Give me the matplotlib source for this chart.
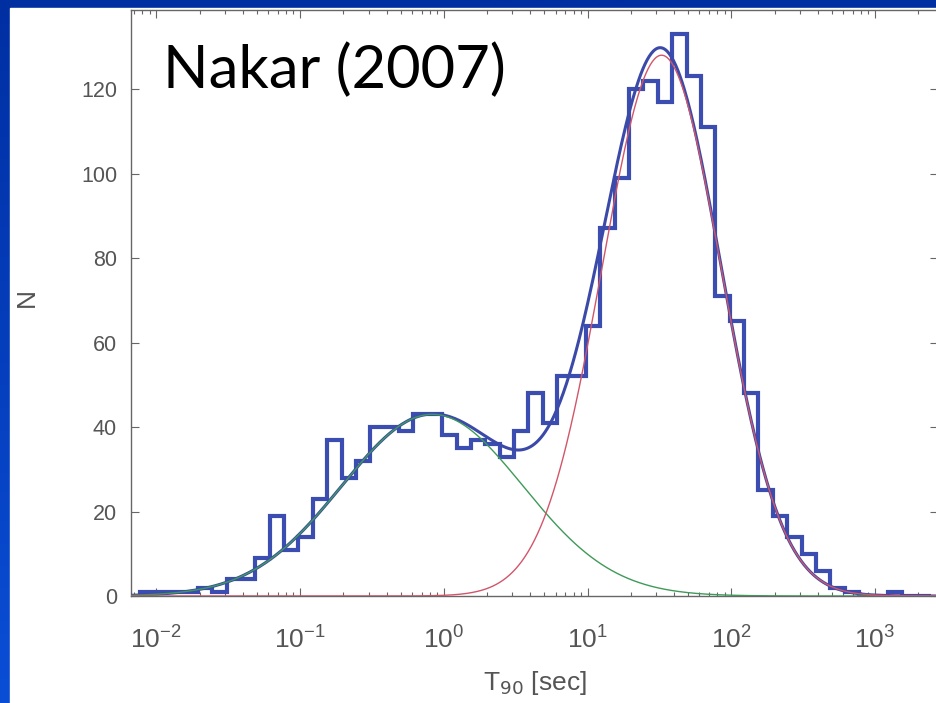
import matplotlib
matplotlib.use("Agg")
import matplotlib.pyplot as plt
import numpy as np
from matplotlib.colors import LinearSegmentedColormap
from matplotlib.patches import Rectangle
from matplotlib.ticker import LogLocator, NullFormatter

plt.rcParams['font.family'] = ['Liberation Sans', 'DejaVu Sans']

# T90 histogram, bins of 0.1 dex starting at log10(T90) = -2.111
first_edge_log = -2.111
bin_width_log = 0.1
counts = [1, 1, 1, 1, 2, 1, 4, 4, 9, 19,
          11, 14, 23, 37, 28, 32, 40, 40, 39, 43,
          43, 38, 35, 37, 36, 33, 39, 48, 41, 52,
          52, 64, 87, 99, 120, 122, 117, 133, 123, 111,
          71, 65, 48, 25, 19, 14, 10, 6, 2, 1,
          0, 0, 1, 0, 0]

# two log-normal components: amplitude, log10 centre, log10 width
short_amp, short_mu, short_sigma = 43.0, -0.08, 0.63
long_amp, long_mu, long_sigma = 128.0, 1.515, 0.415

yticks = [0, 20, 40, 60, 80, 100, 120]

W, H = 936, 703
fig = plt.figure(figsize=(W / 100, H / 100), dpi=100)

# slide background: blue gradient with a white panel
bg = fig.add_axes([0, 0, 1, 1], zorder=-2)
grad = LinearSegmentedColormap.from_list('slide', ['#002fa2', '#0a4ed6'])
bg.imshow(np.linspace(0, 1, 256).reshape(-1, 1), cmap=grad, aspect='auto',
          extent=[0, 1, 0, 1], origin='upper')
bg.add_patch(Rectangle((10 / W, 0), 1, (H - 8) / H, color='white'))
bg.set_xlim(0, 1)
bg.set_ylim(0, 1)
bg.axis('off')

ax = fig.add_axes([131 / W, 107 / H, (938 - 131) / W, (596 - 10) / H])
ax.set_facecolor('white')

edges = 10 ** (first_edge_log + bin_width_log * np.arange(len(counts) + 1))
ax.stairs(counts, edges, color='#3b4db0', lw=3.0, zorder=2)

lx = np.linspace(-2.3, 3.6, 800)
short_fit = short_amp * np.exp(-0.5 * ((lx - short_mu) / short_sigma) ** 2)
long_fit = long_amp * np.exp(-0.5 * ((lx - long_mu) / long_sigma) ** 2)
t = 10 ** lx
ax.plot(t, short_fit + long_fit, color='#3b4aa8', lw=2.2, zorder=3)
ax.plot(t, short_fit, color='#3f9a58', lw=1.0, zorder=4)
ax.plot(t, long_fit, color='#d2566a', lw=1.0, zorder=5)

ax.set_xscale('log')
ax.set_xlim(10 ** -2.176, 10 ** 3.438)
ax.set_ylim(0, 138.7)
ax.set_yticks(yticks)
ax.xaxis.set_major_locator(LogLocator(base=10, numticks=12))
ax.xaxis.set_minor_locator(LogLocator(base=10, subs=np.arange(2, 10), numticks=12))
ax.xaxis.set_minor_formatter(NullFormatter())

ax.tick_params(which='both', direction='in', top=True, right=True,
               colors='#666666', labelcolor='#555555')
ax.tick_params(which='major', length=6, width=0.8)
ax.tick_params(which='minor', length=3, width=0.8)
ax.tick_params(axis='x', pad=22, labelsize=19)
ax.tick_params(axis='y', pad=10, labelsize=15.5)
for s in ax.spines.values():
    s.set_color('#666666')
    s.set_linewidth(1.0)

ax.set_xlabel('T$_{90}$ [sec]', fontsize=19, color='#555555', labelpad=11)
ax.set_ylabel('N', fontsize=19, color='#555555')
ax.yaxis.set_label_coords(-0.114, 0.51)

fig.text(163 / W, (H - 88) / H, 'Nakar (2007)', fontsize=43, family='Lato',
         color='black', va='baseline', ha='left')

fig.savefig('out.png', dpi=100)
